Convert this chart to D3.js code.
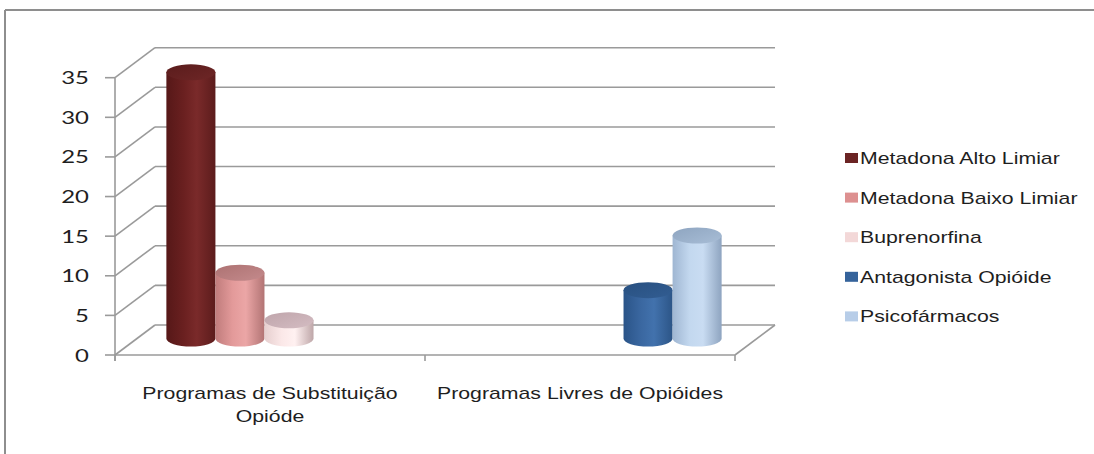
<!DOCTYPE html>
<html>
<head>
<meta charset="utf-8">
<script src="https://cdn.jsdelivr.net/npm/d3@7/dist/d3.min.js"></script>
<style>
  html, body { margin: 0; padding: 0; background: #fff; }
  svg { display: block; }
</style>
</head>
<body>
<svg id="chart" width="1094" height="454"></svg>
<script>
// Chart data
const categories = ["Programas de Substituição Opióde", "Programas Livres de Opióides"];
const categoryLines = [["Programas de Substituição", "Opióde"], ["Programas Livres de Opióides"]];
const seriesNames = ["Metadona Alto Limiar", "Metadona Baixo Limiar", "Buprenorfina", "Antagonista Opióide", "Psicofármacos"];
const seriesCategory = [0, 0, 0, 1, 1];
const seriesValues = [33.6, 8.3, 2.3, 6.1, 13.0];
const yTicks = [0, 5, 10, 15, 20, 25, 30, 35];

// Colour schemes per series: legend swatch, body gradient stops, top cap
const palette = [
  { swatch: "#6b2424", body: ["#561818", "#6a2020", "#7a2a2a", "#5c1c1c"], cap: ["#5a1c1c", "#6e2626"] },
  { swatch: "#dd9090", body: ["#c07c7c", "#e39a9a", "#eba6a6", "#b27474"], cap: ["#ad7272", "#c48a8c"] },
  { swatch: "#f3d8d8", body: ["#e6cfcf", "#fbe8e8", "#fff1f1", "#bea6a8"], cap: ["#bfa5ab", "#d4bcc2"] },
  { swatch: "#35639b", body: ["#2a5488", "#3a67a0", "#4272ad", "#2c5587"], cap: ["#285080", "#325d92"] },
  { swatch: "#b7cde8", body: ["#9fb6d2", "#c3d8ef", "#c9dcf2", "#8ea4c0"], cap: ["#8ea5c0", "#a8bdd6"] }
];

const svg = d3.select("#chart");
const W = 1094, H = 454;
const STRETCH = 1.33;       // horizontal text stretch
const depthDX = 40, depthDY = -30;   // back-wall offset of the 3D box
const barDX = 19, barDY = -16.5;     // cylinders sit around mid-depth

// Scales (front plane)
const x0 = 115, x1 = 735;
const y = d3.scaleLinear().domain([0, 35]).range([355, 77.7]);
const xCat = d3.scaleBand().domain(d3.range(categories.length)).range([x0, x1]).padding(0);
const xSlot = d3.scaleBand().domain(d3.range(seriesNames.length))
  .range([0, xCat.bandwidth()]).paddingInner(0).paddingOuter(0.66);

// Outer frame
const frame = svg.append("g").attr("stroke", "#8e8e8e").attr("stroke-width", 2).attr("fill", "none");
frame.append("line").attr("x1", 5).attr("y1", 10).attr("x2", W).attr("y2", 10);
frame.append("line").attr("x1", 5).attr("y1", 10).attr("x2", 5).attr("y2", H);

// Gridlines: side wall diagonals plus back wall horizontals
const grid = svg.append("g").attr("stroke", "#9a9a9a").attr("stroke-width", 1.6).attr("fill", "none");
yTicks.forEach(t => {
  const yf = y(t);
  grid.append("line").attr("x1", x0).attr("y1", yf).attr("x2", x0 + depthDX).attr("y2", yf + depthDY);
  grid.append("line").attr("x1", x0 + depthDX).attr("y1", yf + depthDY).attr("x2", x1 + depthDX).attr("y2", yf + depthDY);
});
// Floor: front edge and right edge
grid.append("line").attr("x1", x0).attr("y1", y(0)).attr("x2", x1).attr("y2", y(0));
grid.append("line").attr("x1", x1).attr("y1", y(0)).attr("x2", x1 + depthDX).attr("y2", y(0) + depthDY);

// Value axis line + ticks
const axis = svg.append("g").attr("stroke", "#9a9a9a").attr("stroke-width", 1.6);
axis.append("line").attr("x1", x0).attr("y1", y(35)).attr("x2", x0).attr("y2", y(0) + 6);
yTicks.forEach(t => {
  axis.append("line").attr("x1", x0 - 10).attr("y1", y(t)).attr("x2", x0).attr("y2", y(t));
});
// Category boundary ticks
[x0, x0 + xCat.bandwidth(), x1].forEach(xx => {
  axis.append("line").attr("x1", xx).attr("y1", y(0)).attr("x2", xx).attr("y2", y(0) + 6);
});

// Helper: stretched text
function stretchedText(parent, tx, ty, str, anchor, size, family) {
  const g = parent.append("g").attr("transform", `translate(${tx},${ty}) scale(${STRETCH},1)`);
  g.append("text").attr("x", 0).attr("y", 0)
    .attr("text-anchor", anchor)
    .attr("font-family", family)
    .attr("font-size", size)
    .attr("fill", "#1e1e1e")
    .text(str);
  return g;
}

// Tick labels
const tickLabels = svg.append("g");
yTicks.forEach(t => {
  stretchedText(tickLabels, 89, y(t) + 6.5, String(t), "end", 18, "Lato, 'Open Sans', sans-serif");
});

// Category labels
const catLabels = svg.append("g");
categoryLines.forEach((lines, i) => {
  const cx = xCat(i) + xCat.bandwidth() / 2;
  lines.forEach((ln, j) => {
    stretchedText(catLabels, cx, 399 + j * 23, ln, "middle", 16, "'Liberation Sans', Arial, sans-serif");
  });
});

// Gradients for cylinders
const defs = svg.append("defs");
palette.forEach((p, i) => {
  const g = defs.append("linearGradient").attr("id", "body" + i).attr("x1", 0).attr("x2", 1).attr("y1", 0).attr("y2", 0);
  g.append("stop").attr("offset", "0%").attr("stop-color", p.body[0]);
  g.append("stop").attr("offset", "35%").attr("stop-color", p.body[1]);
  g.append("stop").attr("offset", "62%").attr("stop-color", p.body[2]);
  g.append("stop").attr("offset", "100%").attr("stop-color", p.body[3]);
  const c = defs.append("linearGradient").attr("id", "cap" + i).attr("x1", 0).attr("x2", 1).attr("y1", 0).attr("y2", 1);
  c.append("stop").attr("offset", "0%").attr("stop-color", p.cap[0]);
  c.append("stop").attr("offset", "100%").attr("stop-color", p.cap[1]);
});

// Cylinders
const ry = 8;
const bars = svg.append("g");
seriesValues.forEach((v, i) => {
  const cat = seriesCategory[i];
  const left = xCat(cat) + xSlot(i) + barDX;
  const w = xSlot.bandwidth();
  const rx = w / 2;
  const yBase = y(0) + barDY;
  const yTop = y(v) + barDY;
  bars.append("path")
    .attr("d", `M${left},${yTop} L${left},${yBase} A${rx},${ry} 0 0 0 ${left + w},${yBase} L${left + w},${yTop} Z`)
    .attr("fill", `url(#body${i})`);
  bars.append("ellipse")
    .attr("cx", left + rx).attr("cy", yTop).attr("rx", rx).attr("ry", ry)
    .attr("fill", `url(#cap${i})`);
});

// Legend
const legend = svg.append("g");
seriesNames.forEach((name, i) => {
  const cy = 158 + i * 39.6;
  legend.append("rect").attr("x", 845).attr("y", cy - 5).attr("width", 13).attr("height", 10)
    .attr("fill", palette[i].swatch);
  stretchedText(legend, 860, cy + 6, name, "start", 16, "'Liberation Sans', Arial, sans-serif");
});
</script>
</body>
</html>
